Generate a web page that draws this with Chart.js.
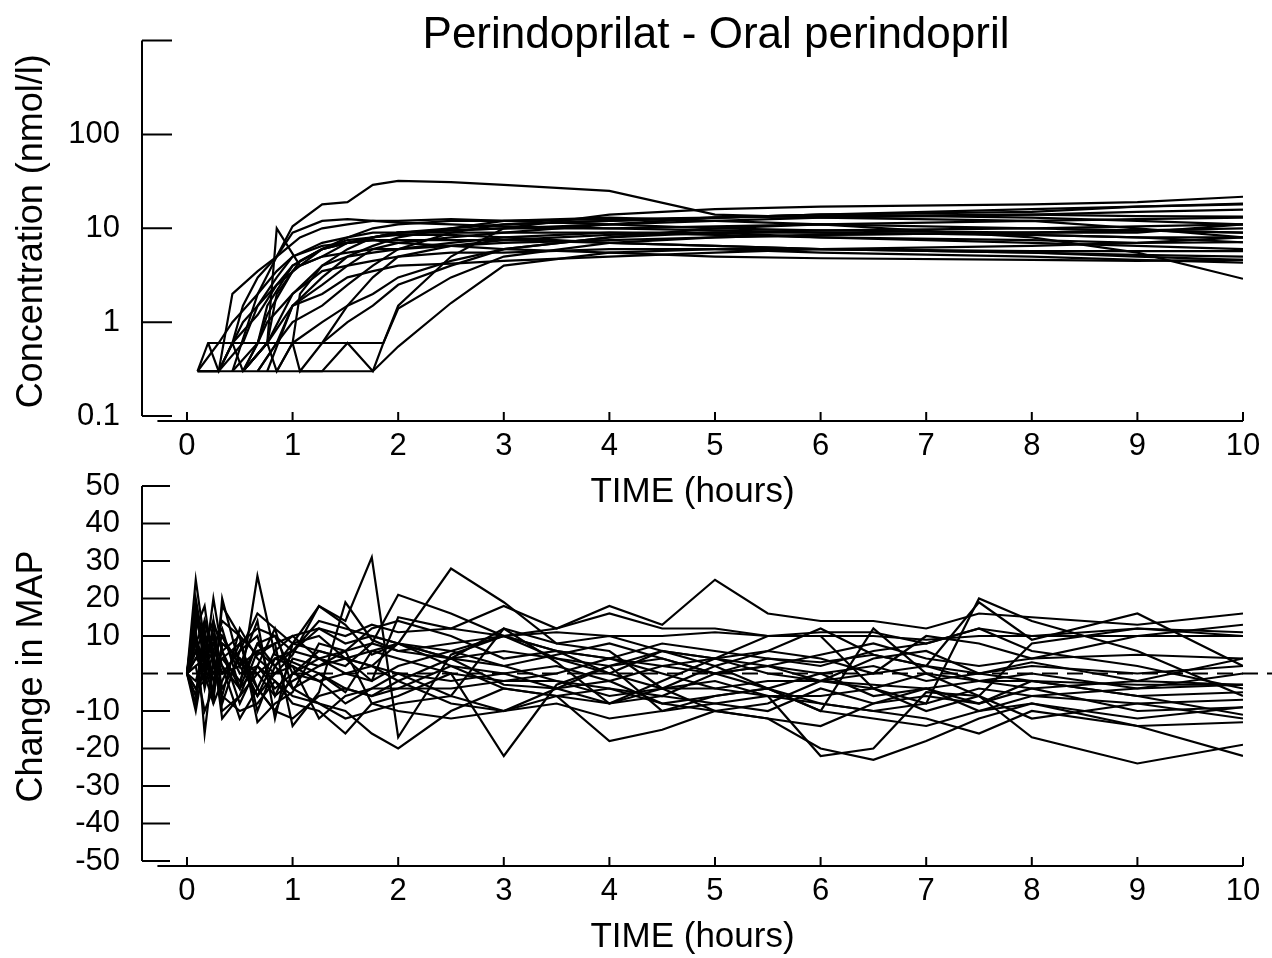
<!DOCTYPE html>
<html>
<head>
<meta charset="utf-8">
<title>Perindoprilat - Oral perindopril</title>
<script src="https://cdn.jsdelivr.net/npm/chart.js@4.4.1/dist/chart.umd.min.js"></script>
<style>
  html, body { margin: 0; padding: 0; background: #fff; }
  #wrap { position: relative; width: 1272px; height: 958px; overflow: hidden; }
  #concChart { position: absolute; left: 0; top: 0; }
  #mapChart { position: absolute; left: 0; top: 440px; }
</style>
</head>
<body>
<div id="wrap">
  <canvas id="concChart" width="1272" height="520"></canvas>
  <canvas id="mapChart" width="1272" height="518"></canvas>
</div>
<script>
const n = null;

// sampling times (hours); subjects leave gaps where they were not sampled
const concTimes = [0.1, 0.2, 0.3, 0.43, 0.53, 0.67, 0.76, 0.85, 1, 1.07, 1.28, 1.52, 1.76, 1.86, 2, 2.5, 3, 4, 5, 6, 8, 9, 10];
const mapTimes = [0, 0.083, 0.167, 0.25, 0.333, 0.5, 0.667, 0.833, 1, 1.25, 1.5, 1.75, 2, 2.5, 3, 3.5, 4, 4.5, 5, 5.5, 6, 6.5, 7, 7.5, 8, 9, 10];

// perindoprilat concentration per subject (nmol/l), 0.3 / 0.6 = below quantification
const c01 = [n, n, n, 0.3, n, 2, n, 5, 10.5, n, 18, 19, 29, n, 32, 31, 29, 25, 14, 13, 12, 12.5, 13];
const c02 = [n, n, n, n, 0.3, n, 0.6, 10, n, 4, 5, 7, 8, n, 9, 9.5, 10, 10, 10.5, 11, 10, 9.5, 9];
const c03 = [0.3, n, 0.3, 2, n, 3.5, n, 5, 9, n, 12, 12.5, 12, n, 11.5, 11, 10.5, 10, 9.5, 9, 8.5, 8, 8];
const c04 = [n, 0.6, 0.3, 0.6, 1.5, 3, n, 5, n, 8, 10, 11, 12, n, 12, 12.5, 12, 11, 10, 9.5, 9, 9, 11];
const c05 = [n, n, 0.3, 0.6, 0.3, n, 0.6, 2, n, 4.5, 6, 7.5, 8, n, 9, 9.5, 10, 11, 12, 13, 14, 15, 15.8];
const c06 = [n, n, n, n, 0.3, n, 0.6, 0.3, 0.6, 2, 4, 6, 8, n, 9, 10, 11, 12, 13, 14, 15, 17, 18.3];
const c07 = [n, n, n, n, n, n, n, 0.3, 0.6, 0.3, 0.6, 1.5, 3, n, 5, 6.5, 7.5, 8.5, 9, 9, 8.5, 8, 7.1];
const c08 = [n, n, n, n, n, n, n, n, n, 0.3, 0.3, 0.6, 0.3, 0.6, 1.5, 5, 10, 14, 16, 17, 18, 19, 21.7];
const c09 = [0.3, n, 0.3, n, 0.6, 1.5, n, 2.5, 4, n, 6, 7, 8, n, 8.5, 8.5, 8, 7, 6.5, 6, 5.7, 5.7, 5.7];
const c10 = [0.3, n, n, n, n, n, n, n, n, n, n, n, 0.3, n, 0.55, 1.6, 4, 5.5, 6, 6, 5.5, 5, 4.6];
const c11 = [0.3, 0.6, n, n, n, n, n, n, n, n, n, n, n, 0.6, 1.4, 3, 5, 7, 8, 8.5, 9, 9.5, 9];
const c12 = [n, n, 0.3, n, 1, 1.5, n, 3, 5, n, 6.5, 7, 7.5, n, 7.5, 7.5, 7.5, 7, 6.5, 6, 5.5, 5.2, 5];
const c13 = [n, n, n, n, n, 0.3, n, 0.6, 1.5, n, 2.5, 4, 6, n, 7, 8, 9, 11, 13, 14, 13, 12, 11];
const c14 = [n, n, n, 0.6, n, 1.2, n, 2.5, n, 4, 5, 5.5, 6, n, 6, 6.5, 7, 7.5, 8, 8.5, 9, 9.5, 10];
const c15 = [n, n, n, n, 0.3, 0.6, 1, n, 2, n, 3.5, 4, 4.5, n, 5, 5.5, 5.5, 6, 6, 5.5, 5, 4.6, 4.3];
const c16 = [n, n, n, n, n, n, 0.6, n, 2, n, 4, 5, 5.5, n, 6, 7, 8, 9, 9, 8, 7, 6.5, 6];
const c17 = [0.3, n, 0.6, 1, n, 2, n, 3.5, 5, n, 7, 8, 9, n, 9, 9, 9, 9, 8.5, 8, 7.5, 7, 7.1];
const c18 = [n, n, n, n, n, n, n, n, 0.6, n, 1, 1.5, 2, n, 3, 4.5, 6, 8, 9, 9.5, 10, 10.5, 11];
const c19 = [n, n, n, n, 0.3, n, 0.6, n, 1.5, n, 3, 5, 6.5, n, 8, 10, 12, 13, 12, 11, 8, 5.5, 2.9];
const c20 = [n, n, n, n, n, 0.3, n, 0.6, 1, n, 1.5, 2.5, 4, n, 6, 9, 11, 12, 13, 13.5, 14, 13.5, 13.3];
const c21 = [n, n, n, 0.3, n, 0.6, 1.2, n, 3.5, n, 6, 8, 10, n, 11, 12, 12, 12.5, 13, 14, 16, 17, 18];
const c22 = [n, n, n, n, n, n, n, n, n, n, 0.6, 1, 1.5, n, 2.5, 4, 6, 8, 10, 11, 12, 10, 8];
const c23 = [n, n, n, n, n, n, 0.3, n, 1.5, n, 2, 3, 3.5, n, 4, 4.2, 4.5, 5, 5.5, 6, 6.5, 7, 8];
const c24 = [n, n, n, n, 0.3, 0.6, 1.5, n, 4, n, 6, 7, 7.5, n, 7, 6.5, 6, 5.5, 5, 4.8, 4.6, 4.5, 4.6];

// change in mean arterial pressure per subject (mmHg)
const m01 = [0, 25, 8, 14, 6, 10, 5, 8, 10, 12, 10, 13, 11, 12, 10, 11, 10, 10, 11, 10, 10, 10, 9, 10, 10, 12, 11];
const m02 = [0, 12, -16, 4, 10, 2, -6, 0, 5, 18, 14, 31, -17, 5, 10, 6, 4, 2, 0, 4, 3, 5, 2, 0, 3, -2, 4];
const m03 = [0, 18, 2, 20, 6, -4, 26, 5, 3, 0, -5, 6, 8, 28, 19, 8, 6, -4, -2, -6, -8, -10, -8, -4, -6, -8, -12];
const m04 = [0, 6, 12, -8, 20, 2, 14, -12, 8, 10, 4, 2, 0, -6, 12, 8, 10, 6, 4, 6, 12, 5, 2, 19, 9, 16, 2];
const m05 = [0, -8, 10, 4, -10, -6, 6, 8, -14, -5, 19, 9, 6, 4, -3, -4, -2, -8, -6, -4, -10, -12, -14, -10, -8, -12, -9];
const m06 = [0, 10, -4, 6, 14, 10, -10, 2, 6, 4, 0, -2, 15, 12, 18, 12, 18, 13, 25, 16, 14, 14, 12, 16, 15, 13, 16];
const m07 = [0, 4, 8, -2, 6, -8, 2, 12, -4, -8, -10, -16, -20, -10, -4, -6, -18, -15, -10, -12, -20, -23, -18, -12, -8, -14, -22];
const m08 = [0, 15, 5, -5, 18, 10, -13, -8, -5, 8, 6, -8, -6, 0, -22, -3, 2, -10, -8, -6, -22, -20, -5, -6, -17, -24, -19];
const m09 = [0, 2, 4, 10, -4, 4, 0, -6, -2, 2, 4, 2, -2, 4, 2, 5, 8, 4, 0, 2, 5, 8, 4, 2, 4, 5, 4];
const m10 = [0, -6, 14, 6, 2, -12, -4, 6, 10, 4, 2, 8, 21, 16, 10, 12, 16, 12, 12, 10, 11, 11, 8, 12, 10, 10, 10];
const m11 = [0, 8, 0, 12, 10, 0, 2, -4, 0, 6, 4, 6, 4, 0, -2, 0, 4, 0, -4, -6, -6, -4, 0, -2, -4, -2, -3];
const m12 = [0, -4, -2, 2, -6, -10, -8, -2, -6, -8, -12, -10, -8, -6, -10, -4, -8, -6, -8, -10, -4, -8, -6, -8, -2, -6, -5];
const m13 = [0, 12, 18, 2, 4, 8, 12, 10, 6, 12, 8, 10, 8, 6, 2, -2, -4, -6, 0, 2, -2, 4, 6, 0, -2, -6, -11];
const m14 = [0, 2, -10, -4, 8, 4, -4, -10, -12, -6, -4, -6, -2, -8, -10, -8, -12, -10, -6, -4, -8, -10, -12, -16, -10, -14, -13];
const m15 = [0, 20, 6, 4, -6, 12, 4, 0, 2, -2, 0, 2, 8, 4, 6, 4, 2, 6, 4, 2, 0, 2, -2, 0, 2, 0, 2];
const m16 = [0, -2, 6, 0, 4, -2, 8, 2, -4, 0, -4, -6, -4, 2, -4, -6, -4, -8, -10, -8, -2, -4, -10, -6, -12, -8, -7];
const m17 = [0, 6, -2, 14, -8, 6, 10, -6, 4, 2, 6, 8, 6, 8, 10, 6, 4, 8, 6, 4, 2, 6, 8, 12, 6, 2, -4];
const m18 = [0, 10, 2, -6, 8, 4, -6, 4, 6, 14, 12, 10, 8, 2, 0, -4, 2, 4, 0, -4, 0, -6, -4, -8, -4, -10, -9];
const m19 = [0, -10, 4, 8, 12, -4, 2, -2, -8, -10, -16, -8, -10, -12, -10, -6, -8, -4, -10, -12, -14, -8, -4, -10, -6, -4, -3];
const m20 = [0, 14, 10, 8, 0, 6, 16, 12, 8, 6, 4, -2, 2, 6, 10, 4, 0, -4, 2, 6, 4, 0, 10, 8, 4, 10, 13];
const m21 = [0, -4, 0, -8, -2, 8, -4, -10, 0, -2, -8, -4, -4, -4, -2, -2, -6, -4, -4, -2, -2, -3, -4, -2, -2, -3, -3];
const m22 = [0, 8, 14, 4, 0, 2, 6, 2, 8, 18, 13, 5, 8, 4, 12, 3, -8, -2, 4, 10, 10, -4, -8, 20, 14, 6, -6];
const m23 = [0, 4, 2, 6, -12, -6, 0, 4, 2, -12, -6, -4, 0, -2, 0, 2, -2, 2, 4, 0, -2, 0, 2, -2, 0, -4, 0];
const m24 = [0, 16, 4, 10, 2, -4, 8, 10, 0, 4, 6, 12, 14, 10, 4, 6, 0, 6, 2, -4, -10, 12, 0, -6, 8, 12, 10];

// axis ticks
const timeTicks = [0, 1, 2, 3, 4, 5, 6, 7, 8, 9, 10];
const concTicks = [0.1, 1, 10, 100];
const concTickLabels = ['0.1', '1', '10', '100'];
const concTickMarks = [0.1, 1, 10, 100, 1000];
const mapTicks = [-50, -40, -30, -20, -10, 0, 10, 20, 30, 40, 50];
const mapTickLabels = ['-50', '-40', '-30', '-20', '-10', '', '10', '20', '30', '40', '50'];

const concSeries = [c01, c02, c03, c04, c05, c06, c07, c08, c09, c10, c11, c12,
                    c13, c14, c15, c16, c17, c18, c19, c20, c21, c22, c23, c24];
const mapSeries = [m01, m02, m03, m04, m05, m06, m07, m08, m09, m10, m11, m12,
                   m13, m14, m15, m16, m17, m18, m19, m20, m21, m22, m23, m24];

const FONT = "'Liberation Sans', Arial, Helvetica, sans-serif";

function toPoints(times, vals) {
  return vals.map((v, i) => (v == null ? null : { x: times[i], y: v })).filter(p => p);
}

function makeDatasets(times, series) {
  return series.map((vals, i) => ({
    label: 'S' + (i + 1),
    data: toPoints(times, vals),
    borderColor: '#000',
    borderWidth: 2.2,
    pointRadius: 0,
    tension: 0,
    fill: false
  }));
}

// old-style detached axes: y line with inward ticks, x line with upward ticks
const axesFrame = {
  id: 'axesFrame',
  beforeDatasetsDraw(chart, args, opts) {
    const { ctx } = chart;
    const xs = chart.scales.x, ys = chart.scales.y;
    const left = chart.chartArea.left;
    ctx.save();
    ctx.strokeStyle = '#000';
    ctx.lineWidth = 2;
    ctx.lineCap = 'butt';

    if (opts.zeroLine != null) {
      const zy = ys.getPixelForValue(opts.zeroLine);
      ctx.setLineDash([16, 9]);
      ctx.beginPath();
      ctx.moveTo(left, zy);
      ctx.lineTo(chart.width, zy);
      ctx.stroke();
      ctx.setLineDash([]);
    }

    const marks = opts.yMarks;
    const yTop = ys.getPixelForValue(marks[marks.length - 1]);
    const yBot = ys.getPixelForValue(marks[0]);
    ctx.beginPath();
    ctx.moveTo(left, yTop);
    ctx.lineTo(left, yBot);
    marks.forEach(v => {
      if (v === opts.zeroLine) return;
      const py = ys.getPixelForValue(v);
      ctx.moveTo(left, py);
      ctx.lineTo(left + opts.yTickLen, py);
    });
    ctx.stroke();

    const axisY = chart.chartArea.bottom - 1;
    ctx.beginPath();
    ctx.moveTo(xs.getPixelForValue(opts.xStart), axisY);
    ctx.lineTo(xs.getPixelForValue(timeTicks[timeTicks.length - 1]), axisY);
    timeTicks.forEach(v => {
      const px = xs.getPixelForValue(v);
      ctx.moveTo(px, axisY);
      ctx.lineTo(px, axisY - opts.xTickLen);
    });
    ctx.stroke();
    ctx.restore();
  },
  afterDraw(chart, args, opts) {
    if (!opts.title) return;
    const { ctx } = chart;
    ctx.save();
    ctx.fillStyle = '#000';
    ctx.font = opts.titleSize + 'px ' + FONT;
    ctx.textAlign = 'center';
    ctx.textBaseline = 'middle';
    ctx.fillText(opts.title, opts.titleX, opts.titleY);
    ctx.restore();
  }
};

function xScale(height, titlePad) {
  return {
    type: 'linear',
    min: -0.426,
    max: 10,
    grid: { display: false, drawTicks: false },
    border: { display: false },
    ticks: { color: '#000', font: { family: FONT, size: 31 }, padding: 6, maxRotation: 0, autoSkip: false },
    afterBuildTicks: s => { s.ticks = timeTicks.map(v => ({ value: v })); },
    afterFit: s => { s.height = height; },
    title: { display: true, text: 'TIME (hours)', color: '#000', font: { family: FONT, size: 35 }, padding: { top: 0, bottom: titlePad } }
  };
}

function yTicks(labels) {
  return {
    color: '#000', font: { family: FONT, size: 31 }, padding: 22, autoSkip: false,
    callback: (v, i) => labels[i]
  };
}

Chart.defaults.animation = false;

new Chart(document.getElementById('concChart'), {
  type: 'line',
  data: { datasets: makeDatasets(concTimes, concSeries) },
  options: {
    responsive: false,
    spanGaps: true,
    layout: { padding: { left: 0, top: 39, right: 29, bottom: 0 } },
    plugins: {
      legend: { display: false },
      tooltip: { enabled: false },
      axesFrame: {
        yMarks: concTickMarks, yTickLen: 30, xTickLen: 9, xStart: -0.28,
        title: 'Perindoprilat - Oral perindopril', titleSize: 44, titleX: 716, titleY: 36
      }
    },
    scales: {
      x: xScale(98, 7),
      y: {
        type: 'logarithmic',
        min: 0.08635,
        max: 1000,
        grid: { display: false, drawTicks: false },
        border: { display: false },
        ticks: yTicks(concTickLabels),
        afterBuildTicks: s => { s.ticks = concTicks.map(v => ({ value: v })); },
        afterFit: s => { s.width = 142; },
        title: { display: true, text: 'Concentration (nmol/l)', color: '#000', font: { family: FONT, size: 36 }, padding: { top: 10, bottom: 0 } }
      }
    }
  },
  plugins: [axesFrame]
});

new Chart(document.getElementById('mapChart'), {
  type: 'line',
  data: { datasets: makeDatasets(mapTimes, mapSeries) },
  options: {
    responsive: false,
    layout: { padding: { left: 0, top: 46, right: 29, bottom: 0 } },
    plugins: {
      legend: { display: false },
      tooltip: { enabled: false },
      axesFrame: { yMarks: mapTicks, yTickLen: 28, xTickLen: 9, xStart: -0.28, zeroLine: 0 }
    },
    scales: {
      x: xScale(91, 0),
      y: {
        type: 'linear',
        min: -51.6,
        max: 50,
        grid: { display: false, drawTicks: false },
        border: { display: false },
        ticks: yTicks(mapTickLabels),
        afterBuildTicks: s => { s.ticks = mapTicks.map(v => ({ value: v })); },
        afterFit: s => { s.width = 142; },
        title: { display: true, text: 'Change in MAP', color: '#000', font: { family: FONT, size: 36 }, padding: { top: 10, bottom: 0 } }
      }
    }
  },
  plugins: [axesFrame]
});
</script>
</body>
</html>
